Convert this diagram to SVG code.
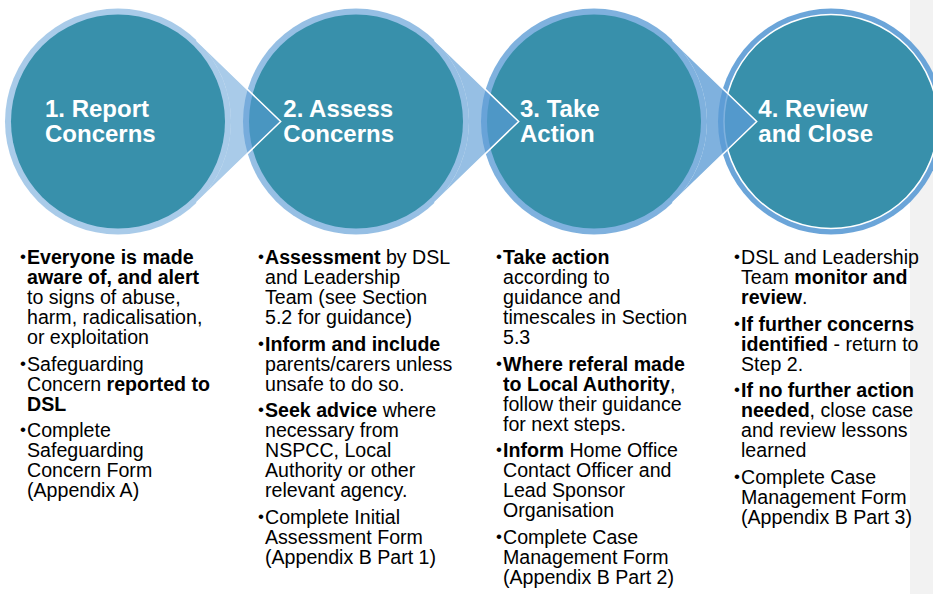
<svg xmlns="http://www.w3.org/2000/svg" width="933" height="594" viewBox="0 0 933 594">
  <style>
    .ring { fill: #5B9BD5; }
    .core { fill: #3890AB; }
    .title { font-family: "Liberation Sans", Arial, sans-serif; font-size: 24px; font-weight: bold; fill: #FFFFFF; }
    .body { font-family: "Liberation Sans", Arial, sans-serif; font-size: 19.6px; fill: #000000; }
    .bul { font-size: 17px; }
    .b { font-weight: bold; }
    .tip-edge { fill: none; stroke: #FFFFFF; stroke-width: 1.5; stroke-linejoin: miter; }
  </style>

  <rect x="0" y="0" width="933" height="594" fill="#FFFFFF"/>
  <!-- side panel -->
  <rect x="910" y="0" width="23" height="594" fill="#F2F2F2"/>

  <!-- step 1 -->
  <g id="node-1">
    <circle class="ring" cx="118" cy="121.5" r="113" fill-opacity="0.52"/>
    <circle class="core" cx="118" cy="121.5" r="107"/>
    <text class="title" x="45" y="116.7">1. Report</text>
    <text class="title" x="45" y="141.7">Concerns</text>
    <g class="body">
      <text class="bul" x="20" y="262">•</text>
      <text x="27" y="264" class="b">Everyone is made</text>
      <text x="27" y="284" class="b">aware of, and alert</text>
      <text x="27" y="304">to signs of abuse,</text>
      <text x="27" y="324">harm, radicalisation,</text>
      <text x="27" y="344">or exploitation</text>
      <text class="bul" x="20" y="368.7">•</text>
      <text x="27" y="370.7">Safeguarding</text>
      <text x="27" y="390.7">Concern <tspan class="b">reported to</tspan></text>
      <text x="27" y="410.7" class="b">DSL</text>
      <text class="bul" x="20" y="435.3">•</text>
      <text x="27" y="437.3">Complete</text>
      <text x="27" y="457.3">Safeguarding</text>
      <text x="27" y="477.3">Concern Form</text>
      <text x="27" y="497.3">(Appendix A)</text>
    </g>
  </g>

  <!-- step 2 -->
  <g id="node-2">
    <circle class="ring" cx="356" cy="121.5" r="113" fill-opacity="0.64"/>
    <circle class="core" cx="356" cy="121.5" r="107"/>
    <text class="title" x="283.3" y="116.7">2. Assess</text>
    <text class="title" x="283.3" y="141.7">Concerns</text>
    <g class="body">
      <text class="bul" x="258" y="262">•</text>
      <text x="265" y="264"><tspan class="b">Assessment</tspan> by DSL</text>
      <text x="265" y="284">and Leadership</text>
      <text x="265" y="304">Team (see Section</text>
      <text x="265" y="324">5.2 for guidance)</text>
      <text class="bul" x="258" y="348.7">•</text>
      <text x="265" y="350.7" class="b">Inform and include</text>
      <text x="265" y="370.7">parents/carers unless</text>
      <text x="265" y="390.7">unsafe to do so.</text>
      <text class="bul" x="258" y="415.3">•</text>
      <text x="265" y="417.3"><tspan class="b">Seek advice</tspan> where</text>
      <text x="265" y="437.3">necessary from</text>
      <text x="265" y="457.3">NSPCC, Local</text>
      <text x="265" y="477.3">Authority or other</text>
      <text x="265" y="497.3">relevant agency.</text>
      <text class="bul" x="258" y="522">•</text>
      <text x="265" y="524">Complete Initial</text>
      <text x="265" y="544">Assessment Form</text>
      <text x="265" y="564">(Appendix B Part 1)</text>
    </g>
  </g>

  <!-- step 3 -->
  <g id="node-3">
    <circle class="ring" cx="594" cy="121.5" r="113" fill-opacity="0.78"/>
    <circle class="core" cx="594" cy="121.5" r="107"/>
    <text class="title" x="520" y="116.7">3. Take</text>
    <text class="title" x="520" y="141.7">Action</text>
    <g class="body">
      <text class="bul" x="496" y="262">•</text>
      <text x="503" y="264" class="b">Take action</text>
      <text x="503" y="284">according to</text>
      <text x="503" y="304">guidance and</text>
      <text x="503" y="324">timescales in Section</text>
      <text x="503" y="344">5.3</text>
      <text class="bul" x="496" y="368.7">•</text>
      <text x="503" y="370.7" class="b">Where referal made</text>
      <text x="503" y="390.7"><tspan class="b">to Local Authority</tspan>,</text>
      <text x="503" y="410.7">follow their guidance</text>
      <text x="503" y="430.7">for next steps.</text>
      <text class="bul" x="496" y="455.3">•</text>
      <text x="503" y="457.3"><tspan class="b">Inform</tspan> Home Office</text>
      <text x="503" y="477.3">Contact Officer and</text>
      <text x="503" y="497.3">Lead Sponsor</text>
      <text x="503" y="517.3">Organisation</text>
      <text class="bul" x="496" y="542">•</text>
      <text x="503" y="544">Complete Case</text>
      <text x="503" y="564">Management Form</text>
      <text x="503" y="584">(Appendix B Part 2)</text>
    </g>
  </g>

  <!-- step 4 -->
  <g id="node-4">
    <circle class="ring" cx="831" cy="121.5" r="113" fill-opacity="0.9"/>
    <circle class="core" cx="831" cy="121.5" r="107" fill="#338DA9" stroke="#FFFFFF" stroke-width="1.5"/>
    <text class="title" x="758.3" y="116.7">4. Review</text>
    <text class="title" x="758.3" y="141.7">and Close</text>
    <g class="body">
      <text class="bul" x="734" y="262">•</text>
      <text x="741" y="264">DSL and Leadership</text>
      <text x="741" y="284">Team <tspan class="b">monitor and</tspan></text>
      <text x="741" y="304"><tspan class="b">review</tspan>.</text>
      <text class="bul" x="734" y="328.7">•</text>
      <text x="741" y="330.7" class="b">If further concerns</text>
      <text x="741" y="350.7"><tspan class="b">identified</tspan> - return to</text>
      <text x="741" y="370.7">Step 2.</text>
      <text class="bul" x="734" y="395.3">•</text>
      <text x="741" y="397.3" class="b">If no further action</text>
      <text x="741" y="417.3"><tspan class="b">needed</tspan>, close case</text>
      <text x="741" y="437.3">and review lessons</text>
      <text x="741" y="457.3">learned</text>
      <text class="bul" x="734" y="482">•</text>
      <text x="741" y="484">Complete Case</text>
      <text x="741" y="504">Management Form</text>
      <text x="741" y="524">(Appendix B Part 3)</text>
    </g>
  </g>

  <!-- pointed links from each step into the next -->
  <g id="connectors">
    <path class="ring" fill-opacity="0.52" d="M196.5 40.2 L280.7 121.5 L196.5 202.8 A113 113 0 0 0 196.5 40.2 Z"/>
    <path class="tip-edge" d="M196.5 40.2 L280.7 121.5 L196.5 202.8"/>
    <path class="ring" fill-opacity="0.64" d="M434.5 40.2 L518.7 121.5 L434.5 202.8 A113 113 0 0 0 434.5 40.2 Z"/>
    <path class="tip-edge" d="M434.5 40.2 L518.7 121.5 L434.5 202.8"/>
    <path class="ring" fill-opacity="0.78" d="M672.5 40.2 L756.7 121.5 L672.5 202.8 A113 113 0 0 0 672.5 40.2 Z"/>
    <path class="tip-edge" d="M672.5 40.2 L756.7 121.5 L672.5 202.8"/>
  </g>
</svg>
